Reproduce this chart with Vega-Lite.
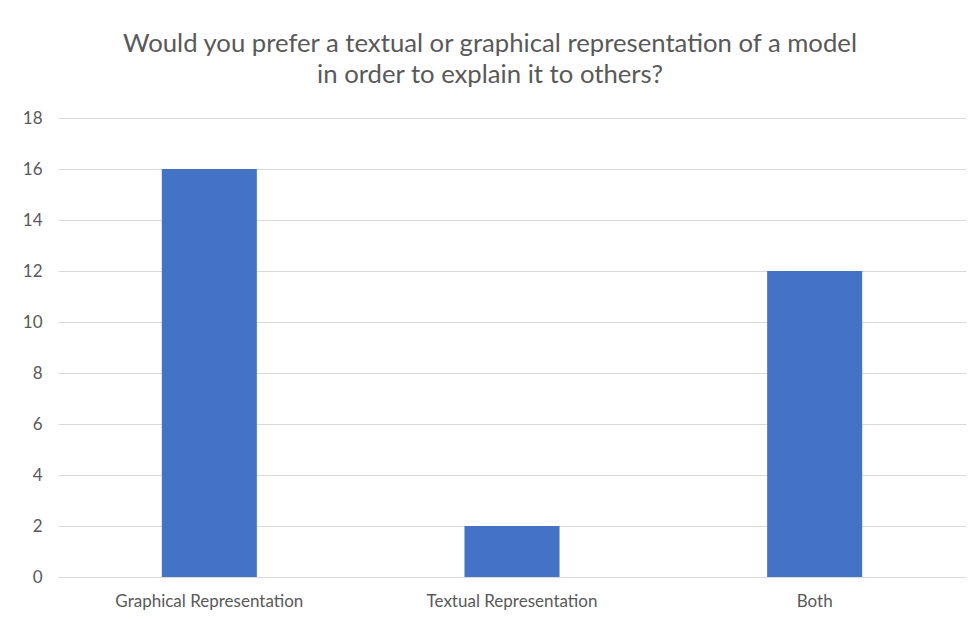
{
  "$schema": "https://vega.github.io/schema/vega-lite/v6.json",
  "autosize": "none",
  "padding": {"left": 58, "top": 118, "right": 12, "bottom": 42},
  "width": 908,
  "height": 459,
  "background": "white",
  "title": {
    "text": ["Would you prefer a textual or graphical representation of a model", "in order to explain it to others?"],
    "font": "Lato",
    "fontSize": 25.7,
    "fontWeight": "normal",
    "color": "#595959",
    "lineHeight": 31,
    "anchor": "middle",
    "frame": "group",
    "dx": -22,
    "offset": 20
  },
  "data": {
    "values": [
      {"category": "Graphical Representation", "value": 16},
      {"category": "Textual Representation", "value": 2},
      {"category": "Both", "value": 12}
    ]
  },
  "mark": {"type": "bar", "color": "#4472C4"},
  "encoding": {
    "x": {
      "field": "category",
      "type": "nominal",
      "sort": null,
      "scale": {"paddingInner": 0.686, "paddingOuter": 0.343},
      "axis": {
        "title": null,
        "labelAngle": 0,
        "labelFont": "Lato",
        "labelFontSize": 17,
        "labelLimit": 0,
        "labelColor": "#595959",
        "labelPadding": 16,
        "ticks": false,
        "domainColor": "#d9d9d9",
        "domainWidth": 1
      }
    },
    "y": {
      "field": "value",
      "type": "quantitative",
      "scale": {"domain": [0, 18]},
      "axis": {
        "title": null,
        "values": [0, 2, 4, 6, 8, 10, 12, 14, 16, 18],
        "labelFont": "Lato",
        "labelFontSize": 17,
        "labelColor": "#595959",
        "labelPadding": 16,
        "ticks": false,
        "domain": false,
        "gridColor": "#d9d9d9",
        "gridWidth": 1
      }
    }
  },
  "config": {"view": {"stroke": null}}
}
